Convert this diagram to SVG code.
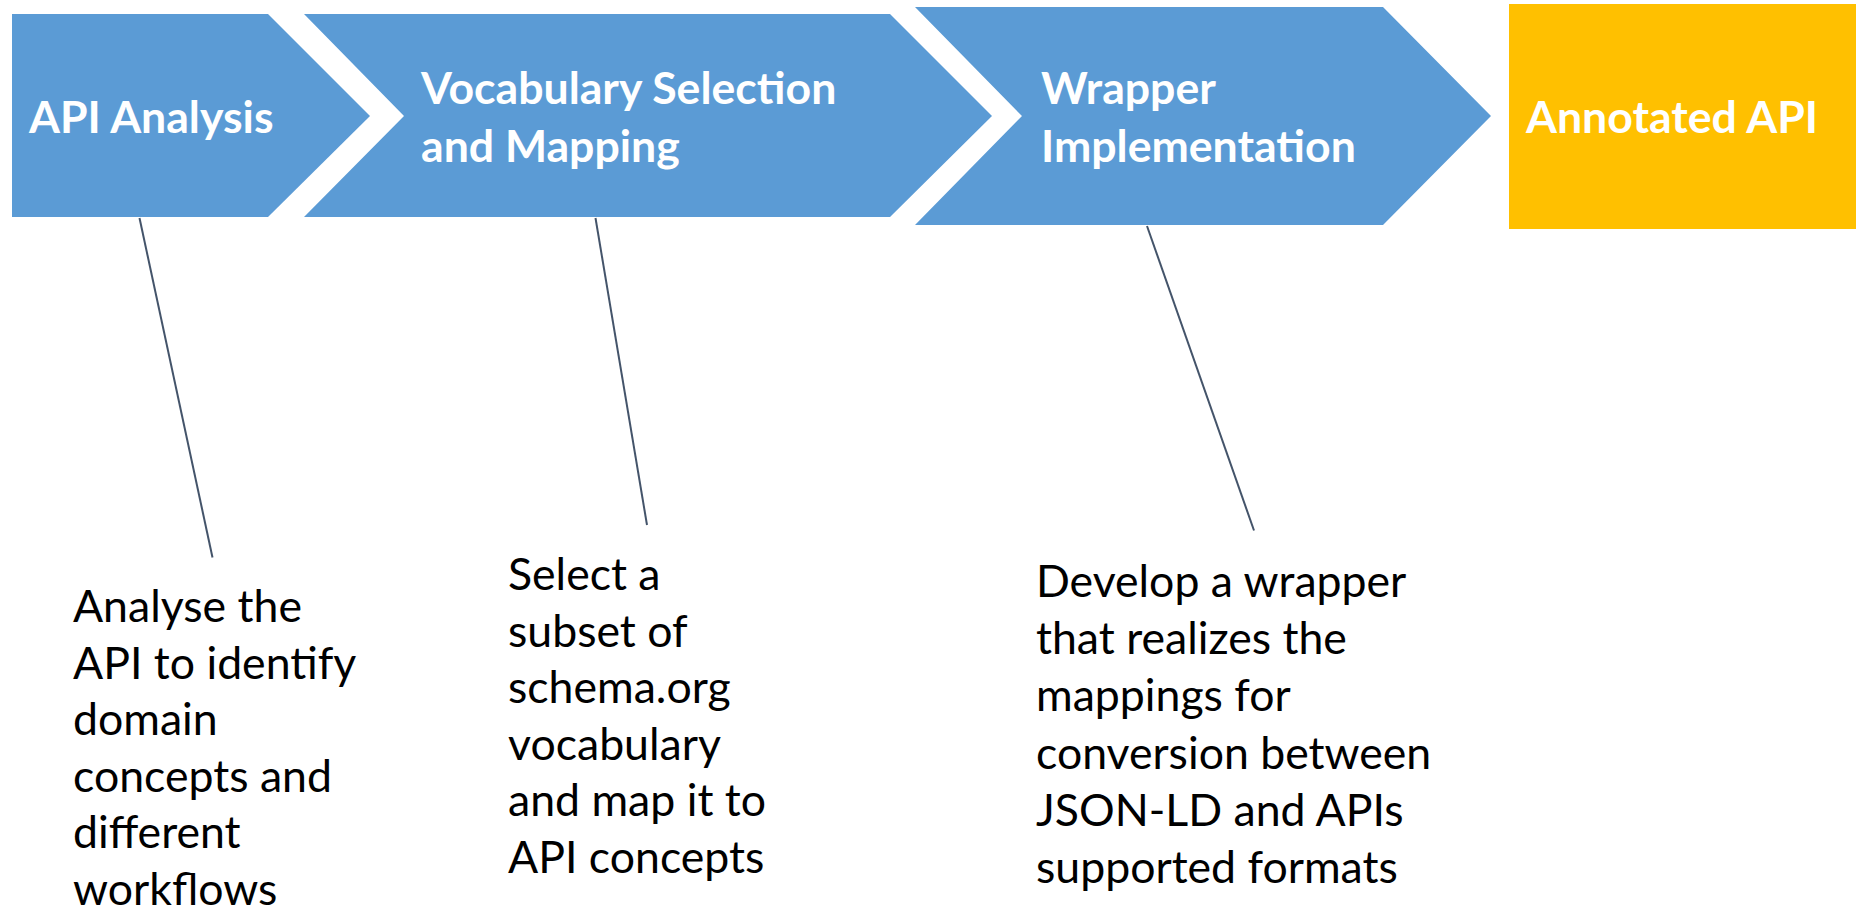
<svg xmlns="http://www.w3.org/2000/svg" width="1858" height="917" viewBox="0 0 1858 917">
  <style>
    .step { fill: #5B9BD5; }
    .result { fill: #FFC000; }
    .head { font-family: Lato, "Open Sans", sans-serif; font-weight: bold; font-size: 44.6px; fill: #FFFFFF; }
    .note { font-family: Lato, "Open Sans", sans-serif; font-size: 44.6px; fill: #000000; }
    .lead { stroke: #44546A; stroke-width: 2; fill: none; }
  </style>
  <rect width="1858" height="917" fill="#FFFFFF"/>

  <!-- process steps -->
  <g id="step-api-analysis">
    <polygon class="step" points="12,14 268,14 370,116 268,217 12,217"/>
    <text class="head" x="29" y="133">API Analysis</text>
  </g>
  <g id="step-vocabulary">
    <polygon class="step" points="304,14 890,14 992,116 890,217 304,217 404,116"/>
    <text class="head" x="421" y="104">Vocabulary Selection</text>
    <text class="head" x="421" y="162">and Mapping</text>
  </g>
  <g id="step-wrapper">
    <polygon class="step" points="915,7 1383,7 1491,116 1383,225 915,225 1022,116"/>
    <text class="head" x="1041" y="104">Wrapper</text>
    <text class="head" x="1041" y="162">Implementation</text>
  </g>
  <g id="result-annotated-api">
    <rect class="result" x="1509" y="4" width="347" height="225"/>
    <text class="head" x="1526" y="133">Annotated API</text>
  </g>

  <!-- descriptions -->
  <g id="note-analysis">
    <text class="note" x="73" y="622">Analyse the</text>
    <text class="note" x="73" y="678.6">API to identify</text>
    <text class="note" x="73" y="735.2">domain</text>
    <text class="note" x="73" y="791.8">concepts and</text>
    <text class="note" x="73" y="848.4">different</text>
    <text class="note" x="73" y="905">workflows</text>
  </g>
  <g id="note-vocabulary">
    <text class="note" x="508" y="590">Select a</text>
    <text class="note" x="508" y="646.6">subset of</text>
    <text class="note" x="508" y="703.2">schema.org</text>
    <text class="note" x="508" y="759.8">vocabulary</text>
    <text class="note" x="508" y="816.4">and map it to</text>
    <text class="note" x="508" y="873">API concepts</text>
  </g>
  <g id="note-wrapper">
    <text class="note" x="1036" y="597">Develop a wrapper</text>
    <text class="note" x="1036" y="654.2">that realizes the</text>
    <text class="note" x="1036" y="711.4">mappings for</text>
    <text class="note" x="1036" y="768.6">conversion between</text>
    <text class="note" x="1036" y="825.8">JSON-LD and APIs</text>
    <text class="note" x="1036" y="883">supported formats</text>
  </g>

  <!-- leader lines from steps to descriptions -->
  <g id="connectors">
    <line class="lead" x1="139.5" y1="218" x2="212.5" y2="557.5"/>
    <line class="lead" x1="595.5" y1="218" x2="647" y2="525"/>
    <line class="lead" x1="1147" y1="226" x2="1254" y2="530.5"/>
  </g>
</svg>
